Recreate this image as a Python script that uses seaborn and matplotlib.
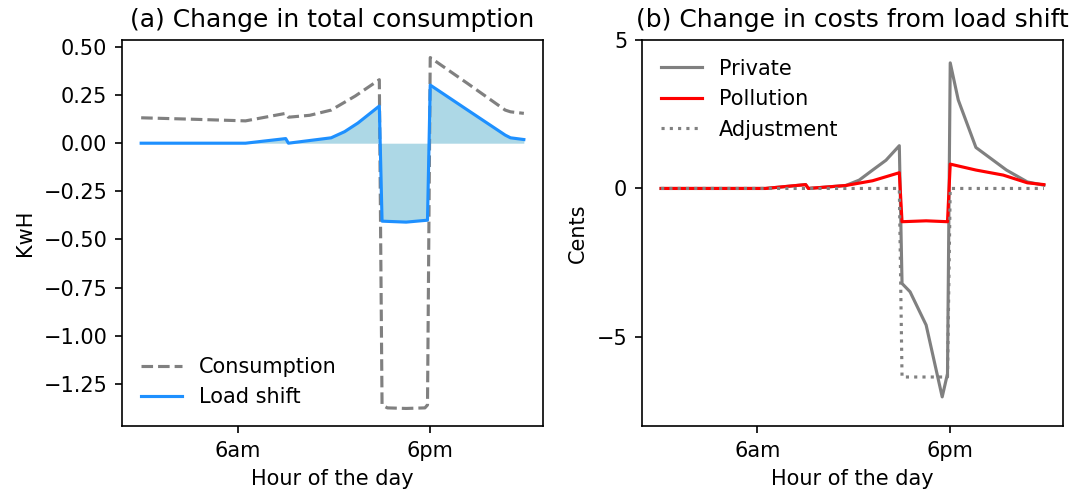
import numpy as np
import matplotlib
matplotlib.use("Agg")
import matplotlib.pyplot as plt
import seaborn as sns

# ---------------- data ----------------
# (a) change in total consumption (hours of the day)
cons_x = [0, 3, 6.5, 9.0, 9.17, 10.5, 11.83, 13.33, 14.83, 15.0, 15.33, 16.5, 17.67, 17.83, 18.0, 20.33, 22.67, 23.0, 23.83]
cons_y = [0.132, 0.125, 0.116, 0.155, 0.135, 0.145, 0.172, 0.245, 0.33, -1.36, -1.375, -1.378, -1.375, -1.36, 0.445, 0.31, 0.172, 0.163, 0.155]

shift_x = [0, 6.5, 9.0, 9.17, 11.83, 12.67, 13.5, 14.83, 15.0, 16.5, 17.83, 18.0, 20.33, 22.67, 23.0, 23.83]
shift_y = [0, 0, 0.024, 0.0, 0.028, 0.06, 0.105, 0.193, -0.405, -0.41, -0.40, 0.302, 0.172, 0.042, 0.028, 0.019]

# (b) change in costs from load shift
priv_x = [0, 6.5, 9.0, 9.17, 11.5, 12.33, 13.17, 14.0, 14.83, 15.0, 15.5, 16.5, 17.5, 17.83, 18.0, 18.5, 19.6, 21.5, 22.8, 23.83]
priv_y = [0, 0, 0.13, 0.0, 0.1, 0.28, 0.62, 0.95, 1.44, -3.2, -3.48, -4.6, -7.02, -6.24, 4.23, 2.98, 1.38, 0.62, 0.22, 0.11]

poll_x = [0, 6.5, 9.0, 9.17, 11.5, 13.17, 14.83, 15.0, 16.5, 17.83, 18.0, 19.6, 21.3, 22.8, 23.83]
poll_y = [0, 0, 0.13, 0.0, 0.1, 0.26, 0.53, -1.12, -1.09, -1.12, 0.82, 0.62, 0.45, 0.19, 0.13]

adj_x = [0, 14.83, 15.0, 17.83, 18.0, 23.83]
adj_y = [0, 0, -6.35, -6.35, 0, 0]

tick_pos = [6, 18]
tick_labels = ["6am", "6pm"]

# ---------------- plot ----------------
s = 1.5  # original rendered at ~1.5x default scale
plt.rcParams.update({
    "font.family": ["DejaVu Sans"],
    "font.size": 10 * s,
    "axes.linewidth": 0.8 * s,
    "xtick.major.size": 3.5 * s, "ytick.major.size": 3.5 * s,
    "xtick.major.width": 0.8 * s, "ytick.major.width": 0.8 * s,
    "xtick.major.pad": 3.5 * s, "ytick.major.pad": 3.5 * s,
    "axes.labelpad": 4.0 * s,
    "axes.titlepad": 6.0 * s,
})

fig = plt.figure(figsize=(10.78, 4.95), dpi=100)
ax1 = fig.add_axes([0.1132, 0.1394, 0.3905, 0.7798])
ax2 = fig.add_axes([0.5955, 0.1394, 0.3906, 0.7798])

lw = 1.5 * s
sns.lineplot(x=cons_x, y=cons_y, ax=ax1, color="grey", linestyle="--", lw=lw,
             label="Consumption", sort=False, estimator=None)
ax1.fill_between(shift_x, 0, shift_y, color="lightblue", lw=0)
sns.lineplot(x=shift_x, y=shift_y, ax=ax1, color="dodgerblue", lw=lw,
             label="Load shift", sort=False, estimator=None)
ax1.set_title("(a) Change in total consumption", fontsize=12 * s)
ax1.set_ylabel("KwH")
ax1.set_xlabel("Hour of the day")
ax1.set_xticks(tick_pos)
ax1.set_xticklabels(tick_labels)
ax1.legend(loc="lower left", frameon=False)

sns.lineplot(x=priv_x, y=priv_y, ax=ax2, color="grey", lw=lw,
             label="Private", sort=False, estimator=None)
sns.lineplot(x=poll_x, y=poll_y, ax=ax2, color="red", lw=lw,
             label="Pollution", sort=False, estimator=None)
sns.lineplot(x=adj_x, y=adj_y, ax=ax2, color="grey", linestyle=":", lw=lw,
             label="Adjustment", sort=False, estimator=None)
ax2.set_title("(b) Change in costs from load shift", fontsize=12 * s)
ax2.set_ylabel("Cents")
ax2.set_xlabel("Hour of the day")
ax2.set_xticks(tick_pos)
ax2.set_xticklabels(tick_labels)
ax2.set_yticks([-5, 0, 5])
ax2.set_ylim(-8, 5)
ax2.legend(loc="upper left", frameon=False)

fig.savefig("out.png", dpi=100)
